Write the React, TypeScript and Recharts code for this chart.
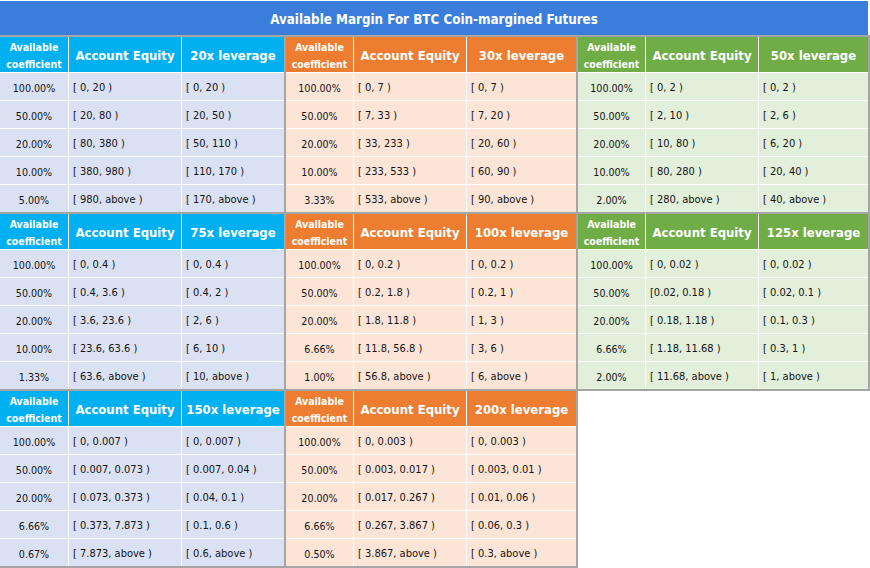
import React from "react";
import { ComposedChart, XAxis, YAxis, ReferenceArea } from "recharts";

const W = 870;
const H = 568;

const title = "Available Margin For BTC Coin-margined Futures";
const headerCoef = ["Available", "coefficient"];
const headerEquity = "Account Equity";

// tiers
const leverages = ["20x", "30x", "50x", "75x", "100x", "125x", "150x", "200x"];

const coef20 = ["100.00%", "50.00%", "20.00%", "10.00%", "5.00%"];
const equity20 = ["[ 0, 20 )", "[ 20, 80 )", "[ 80, 380 )", "[ 380, 980 )", "[ 980, above )"];
const lev20 = ["[ 0, 20 )", "[ 20, 50 )", "[ 50, 110 )", "[ 110, 170 )", "[ 170, above )"];

const coef30 = ["100.00%", "50.00%", "20.00%", "10.00%", "3.33%"];
const equity30 = ["[ 0, 7 )", "[ 7, 33 )", "[ 33, 233 )", "[ 233, 533 )", "[ 533, above )"];
const lev30 = ["[ 0, 7 )", "[ 7, 20 )", "[ 20, 60 )", "[ 60, 90 )", "[ 90, above )"];

const coef50 = ["100.00%", "50.00%", "20.00%", "10.00%", "2.00%"];
const equity50 = ["[ 0, 2 )", "[ 2, 10 )", "[ 10, 80 )", "[ 80, 280 )", "[ 280, above )"];
const lev50 = ["[ 0, 2 )", "[ 2, 6 )", "[ 6, 20 )", "[ 20, 40 )", "[ 40, above )"];

const coef75 = ["100.00%", "50.00%", "20.00%", "10.00%", "1.33%"];
const equity75 = ["[ 0, 0.4 )", "[ 0.4, 3.6 )", "[ 3.6, 23.6 )", "[ 23.6, 63.6 )", "[ 63.6, above )"];
const lev75 = ["[ 0, 0.4 )", "[ 0.4, 2 )", "[ 2, 6 )", "[ 6, 10 )", "[ 10, above )"];

const coef100 = ["100.00%", "50.00%", "20.00%", "6.66%", "1.00%"];
const equity100 = ["[ 0, 0.2 )", "[ 0.2, 1.8 )", "[ 1.8, 11.8 )", "[ 11.8, 56.8 )", "[ 56.8, above )"];
const lev100 = ["[ 0, 0.2 )", "[ 0.2, 1 )", "[ 1, 3 )", "[ 3, 6 )", "[ 6, above )"];

const coef125 = ["100.00%", "50.00%", "20.00%", "6.66%", "2.00%"];
const equity125 = ["[ 0, 0.02 )", "[0.02, 0.18 )", "[ 0.18, 1.18 )", "[ 1.18, 11.68 )", "[ 11.68, above )"];
const lev125 = ["[ 0, 0.02 )", "[ 0.02, 0.1 )", "[ 0.1, 0.3 )", "[ 0.3, 1 )", "[ 1, above )"];

const coef150 = ["100.00%", "50.00%", "20.00%", "6.66%", "0.67%"];
const equity150 = ["[ 0, 0.007 )", "[ 0.007, 0.073 )", "[ 0.073, 0.373 )", "[ 0.373, 7.873 )", "[ 7.873, above )"];
const lev150 = ["[ 0, 0.007 )", "[ 0.007, 0.04 )", "[ 0.04, 0.1 )", "[ 0.1, 0.6 )", "[ 0.6, above )"];

const coef200 = ["100.00%", "50.00%", "20.00%", "6.66%", "0.50%"];
const equity200 = ["[ 0, 0.003 )", "[ 0.003, 0.017 )", "[ 0.017, 0.267 )", "[ 0.267, 3.867 )", "[ 3.867, above )"];
const lev200 = ["[ 0, 0.003 )", "[ 0.003, 0.01 )", "[ 0.01, 0.06 )", "[ 0.06, 0.3 )", "[ 0.3, above )"];

const tiers = [
  { lev: leverages[0], coef: coef20, equity: equity20, range: lev20 },
  { lev: leverages[1], coef: coef30, equity: equity30, range: lev30 },
  { lev: leverages[2], coef: coef50, equity: equity50, range: lev50 },
  { lev: leverages[3], coef: coef75, equity: equity75, range: lev75 },
  { lev: leverages[4], coef: coef100, equity: equity100, range: lev100 },
  { lev: leverages[5], coef: coef125, equity: equity125, range: lev125 },
  { lev: leverages[6], coef: coef150, equity: equity150, range: lev150 },
  { lev: leverages[7], coef: coef200, equity: equity200, range: lev200 },
];

// layout (axis units = px)
const colEdges = [
  [0, 69, 182, 284],
  [286, 354, 467, 576],
  [578, 646, 759, 868],
];
const blockTops = [37, 214, 391];
const TITLE_H = 35;
const HEAD_H = 35;
const ROW_H = 28;
const BLOCK_H = HEAD_H + 1 + ROW_H * 5 - 1;

const themes = [
  { head: "#00b0f0", body: "#dae1f3" },
  { head: "#ed7d31", body: "#fce4d6" },
  { head: "#70ad47", body: "#e2efda" },
];

const FONT = "'DejaVu Sans Condensed', 'DejaVu Sans', sans-serif";

type CellProps = {
  viewBox?: { x: number; y: number; width: number; height: number };
  lines: string[];
  align?: "center" | "left";
  bold?: boolean;
  size?: number;
  color?: string;
  gap?: number;
};

function CellText({ viewBox, lines, align = "center", bold, size = 10, color = "#141414", gap = 17 }: CellProps) {
  if (!viewBox) return null;
  const { x, y, width, height } = viewBox;
  const tx = align === "center" ? x + width / 2 : x + 4;
  const cy = y + height / 2 + 1;
  const start = cy - ((lines.length - 1) * gap) / 2;
  return (
    <text
      x={tx}
      textAnchor={align === "center" ? "middle" : "start"}
      fontFamily={FONT}
      fontSize={size}
      fontWeight={bold ? 700 : 400}
      fill={color}
    >
      {lines.map((l, i) => (
        <tspan key={i} x={tx} y={start + i * gap} dominantBaseline="central">
          {l}
        </tspan>
      ))}
    </text>
  );
}

function area(key: string, x1: number, x2: number, y1: number, y2: number, fill: string, label?: React.ReactElement) {
  return (
    <ReferenceArea
      key={key}
      x1={x1}
      x2={x2}
      y1={y1}
      y2={y2}
      fill={fill}
      fillOpacity={1}
      stroke="none"
      ifOverflow="visible"
      label={label}
    />
  );
}

export default function App() {
  const areas: React.ReactElement[] = [];
  // frame
  areas.push(area("bg-top", 0, W, TITLE_H, blockTops[2], "#a5a5a5"));
  areas.push(area("bg-bottom", 0, colEdges[2][0], blockTops[2], H, "#a5a5a5"));
  areas.push(
    area("title", 0, colEdges[2][3], 1, TITLE_H, "#3a7ddb",
      <CellText lines={[title]} bold size={13.3} color="#ffffff" />)
  );

  tiers.forEach((t, i) => {
    const edges = colEdges[i % 3];
    const top = blockTops[Math.floor(i / 3)];
    const theme = themes[i % 3];
    areas.push(area(`blk${i}`, edges[0], edges[3], top, top + BLOCK_H, "#ffffff"));
    const cols = [
      { lines: headerCoef, size: 10.5, values: t.coef, align: "center" as const, vsize: 10.6 },
      { lines: [headerEquity], size: 13, values: t.equity, align: "left" as const, vsize: 11 },
      { lines: [`${t.lev} leverage`], size: 13, values: t.range, align: "left" as const, vsize: 11 },
    ];
    cols.forEach((c, ci) => {
      const x1 = edges[ci];
      const x2 = edges[ci + 1] - (ci < 2 ? 1 : 0);
      areas.push(
        area(`h${i}-${ci}`, x1, x2, top, top + HEAD_H, theme.head,
          <CellText lines={c.lines} bold size={c.size} color="#ffffff" />)
      );
      c.values.forEach((v, r) => {
        const y1 = top + HEAD_H + 1 + ROW_H * r;
        areas.push(
          area(`c${i}-${ci}-${r}`, x1, x2, y1, y1 + ROW_H - 1, theme.body,
            <CellText lines={[v]} align={c.align} size={c.vsize} />)
        );
      });
    });
  });

  return (
    <>
      <style>{"body{margin:0;background:#fff}"}</style>
      <ComposedChart width={W} height={H} data={[]} margin={{ top: 0, right: 0, bottom: 0, left: 0 }}>
        <XAxis type="number" dataKey="x" domain={[0, W]} hide allowDataOverflow />
        <YAxis type="number" dataKey="y" domain={[0, H]} reversed hide allowDataOverflow />
        {areas}
      </ComposedChart>
    </>
  );
}
